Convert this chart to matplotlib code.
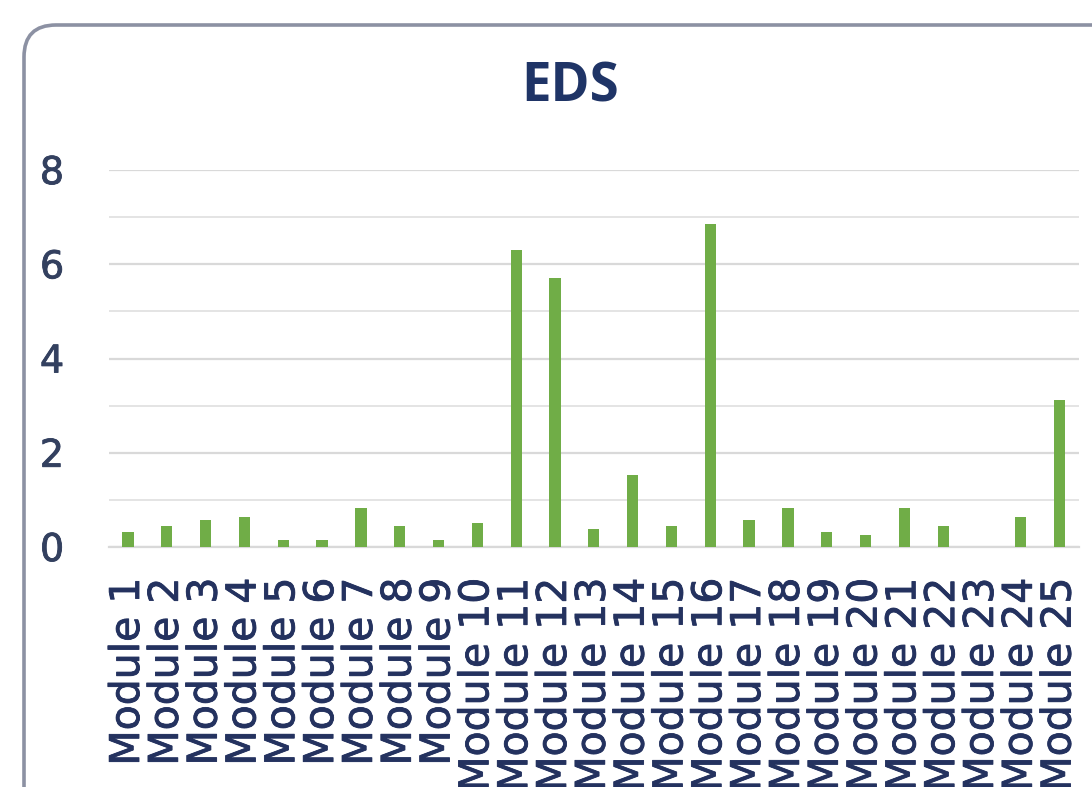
import matplotlib
matplotlib.use("Agg")
import matplotlib.pyplot as plt
import matplotlib.patheffects as pe
from matplotlib.patches import FancyBboxPatch
from matplotlib.ticker import MultipleLocator

categories = [f"Module {i}" for i in range(1, 26)]
values = [0.32, 0.45, 0.57, 0.64, 0.15, 0.15, 0.82, 0.45, 0.15, 0.50,
          6.31, 5.70, 0.38, 1.53, 0.45, 6.85, 0.57, 0.82, 0.32, 0.25,
          0.82, 0.45, 0.0, 0.64, 3.12]
title = "EDS"

W, H = 1092, 787
fig = plt.figure(figsize=(W / 100, H / 100), dpi=100)
fig.patch.set_facecolor("white")

# chart border (cropped at right and bottom)
border = FancyBboxPatch((0.24, -1.0), 12.0, 7.62 + 1.0,
                        boxstyle="round,pad=0,rounding_size=0.32",
                        transform=fig.dpi_scale_trans,
                        facecolor="white", edgecolor="#8C91A3", linewidth=2.6,
                        zorder=-10)
fig.add_artist(border)

left = 108.6 / W
right = 1079.0 / W
bottom = 1 - 547 / H
top = 1 - 170 / H
ax = fig.add_axes([left, bottom, right - left, top - bottom])
ax.set_zorder(5)
ax.set_facecolor("none")

x = list(range(len(categories)))
ax.bar(x, values, width=0.29, color="#70AD47", zorder=3)
ax.set_xlim(-0.5, len(categories) - 0.5)
ax.set_ylim(0, 8)

ax.yaxis.set_major_locator(MultipleLocator(2))
ax.yaxis.set_minor_locator(MultipleLocator(1))
ax.grid(axis="y", which="major", color="#D9D9D9", linewidth=1.6, zorder=0)
ax.grid(axis="y", which="minor", color="#E4E4E4", linewidth=1.4, zorder=0)
ax.set_axisbelow(True)

for s in ["top", "right", "left"]:
    ax.spines[s].set_visible(False)
ax.spines["bottom"].set_color("#D9D9D9")
ax.spines["bottom"].set_linewidth(1.6)

thick = [pe.withStroke(linewidth=0.6, foreground="#24325F")]
ax.set_xticks(x)
ax.set_xticklabels(categories, rotation=90, ha="center", va="top",
                   fontsize=29.5, color="#24325F", family="DejaVu Sans")
for lab in ax.get_xticklabels():
    lab.set_path_effects(thick)
ax.tick_params(axis="x", length=0, pad=22)
ax.tick_params(axis="y", which="both", length=0, pad=32, labelsize=27.5,
               labelcolor="#33405F")
for lab in ax.get_yticklabels():
    lab.set_family("DejaVu Sans")
    lab.set_path_effects([pe.withStroke(linewidth=0.6, foreground="#33405F")])

fig.text(0.522, 1 - 87 / H, title, ha="center", va="center",
         fontsize=38, fontweight="bold", color="#1F3466", family="Open Sans",
         zorder=6)

fig.savefig("out.png", dpi=100)
